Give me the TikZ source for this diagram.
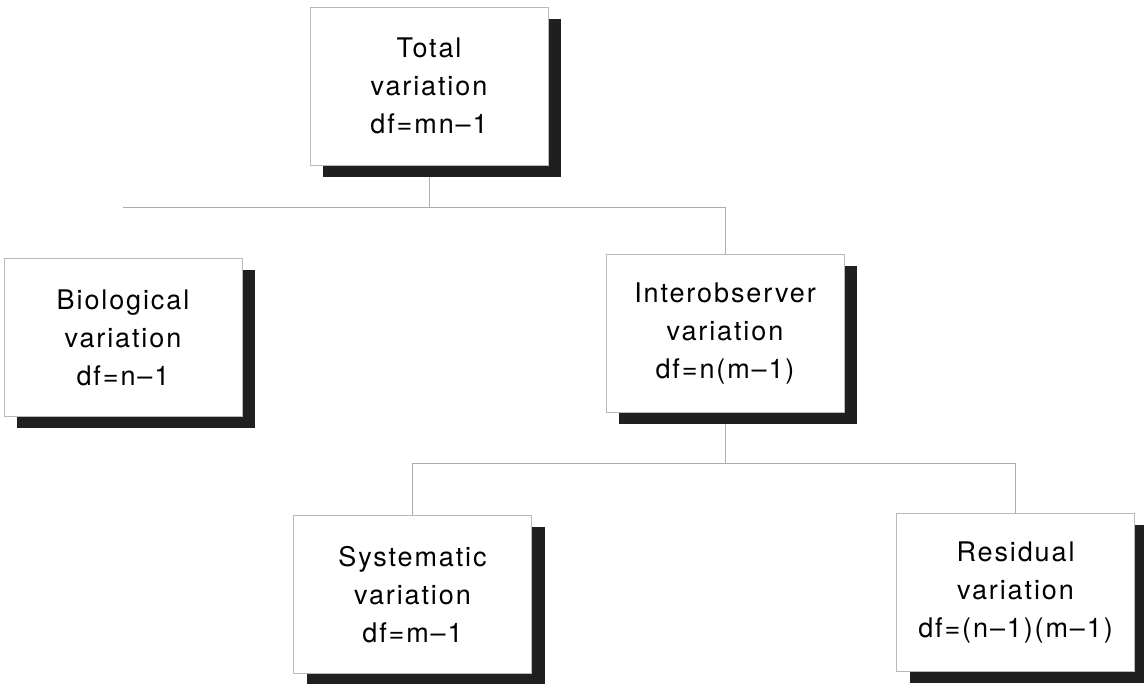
\documentclass[tikz,border=0pt]{standalone}
\usepackage{fontspec}
\newfontfamily\boxfont[LetterSpace=7]{TeX Gyre Heros}
\usepackage{tikz}
\usetikzlibrary{shadows,backgrounds}
\tikzset{vbox/.style={draw=gray!55, line width=0.4pt, fill=white, align=center, minimum width=119pt, minimum height=79pt, font=\boxfont\fontsize{13.5}{19}\selectfont, drop shadow={shadow xshift=6.5pt, shadow yshift=-6pt, fill=black!88, opacity=1}}, link/.style={draw=gray!65, line width=0.4pt}}

\begin{document}
\begin{tikzpicture}[x=1pt,y=1pt]
\useasboundingbox (0,0) rectangle (572,342);
\node[vbox] (total) at (214.5,299) {Total\\variation\\df=mn–1};
\node[vbox] (bio) at (61.5,173.25) {Biological\\variation\\df=n–1};
\node[vbox] (inter) at (362.5,175.25) {Interobserver\\variation\\df=n(m–1)};
\node[vbox] (syst) at (206.25,44.75) {Systematic\\variation\\df=m–1};
\node[vbox] (resid) at (507.75,45.75) {Residual\\variation\\df=(n–1)(m–1)};
\coordinate (split1) at (0,238.5);
\coordinate (split2) at (0,110.5);
\begin{scope}[on background layer]
\draw[link] (total.south) -- (total.south |- split1);
\draw[link] (bio.north |- split1) -| (inter.north);
\draw[link] (inter.south) -- (inter.south |- split2);
\draw[link] (syst.north) |- (resid.north |- split2) -- (resid.north);
\end{scope}
\end{tikzpicture}
\end{document}
